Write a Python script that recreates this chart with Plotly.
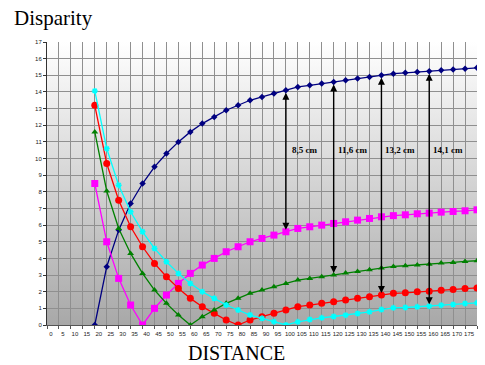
import base64
import plotly.graph_objects as go

# ---- data ----
distance = [20, 25, 30, 35, 40, 45, 50, 55, 60, 65, 70, 75, 80, 85, 90, 95, 100,
            105, 110, 115, 120, 125, 130, 135, 140, 145, 150, 155, 160, 165, 170, 175, 180]

navy_vals = [0, 3.5, 5.7, 7.3, 8.5, 9.5, 10.3, 11.0, 11.6, 12.1, 12.5, 12.9, 13.2, 13.5, 13.7, 13.9, 14.1,
             14.3, 14.4, 14.5, 14.6, 14.7, 14.8, 14.9, 15.0, 15.1, 15.15, 15.2, 15.25, 15.3, 15.35, 15.4, 15.45]

magenta_vals = [8.5, 5.0, 2.8, 1.2, 0, 1.0, 1.8, 2.5, 3.1, 3.6, 4.0, 4.4, 4.7, 5.0, 5.2, 5.4, 5.6,
                5.8, 5.9, 6.0, 6.1, 6.2, 6.3, 6.4, 6.5, 6.57, 6.62, 6.68, 6.72, 6.78, 6.82, 6.86, 6.92]

red_vals = [13.2, 9.7, 7.5, 5.9, 4.7, 3.7, 2.9, 2.2, 1.6, 1.1, 0.7, 0.3, 0, 0.3, 0.5, 0.7, 0.9,
            1.1, 1.2, 1.3, 1.4, 1.5, 1.6, 1.7, 1.8, 1.9, 1.93, 1.99, 2.03, 2.09, 2.13, 2.19, 2.23]

green_vals = [11.6, 8.05, 5.8, 4.3, 3.1, 2.1, 1.3, 0.6, 0, 0.5, 0.9, 1.3, 1.6, 1.9, 2.1, 2.3, 2.5,
              2.7, 2.8, 2.9, 3.0, 3.12, 3.22, 3.32, 3.42, 3.52, 3.56, 3.6, 3.65, 3.72, 3.76, 3.82, 3.86]

cyan_vals = [14.06, 10.6, 8.4, 6.8, 5.6, 4.6, 3.8, 3.1, 2.5, 2.0, 1.6, 1.2, 0.9, 0.6, 0.4, 0.2, 0,
             0.19, 0.33, 0.43, 0.51, 0.59, 0.69, 0.79, 0.93, 1.03, 1.05, 1.09, 1.13, 1.19, 1.23, 1.29, 1.33]

arrow_x = [100, 120, 140, 160]
arrow_labels = ["8,5 cm", "11,6 cm", "13,2 cm", "14,1 cm"]
arrow_targets = ["magenta", "green", "red", "cyan"]

x_ticks = list(range(0, 185, 5))
y_ticks = list(range(0, 18))

series = {
    "navy": dict(vals=navy_vals, color="#000080", symbol="diamond", size=5),
    "magenta": dict(vals=magenta_vals, color="#FF00FF", symbol="square", size=7),
    "red": dict(vals=red_vals, color="#FF0000", symbol="circle", size=7),
    "green": dict(vals=green_vals, color="#008000", symbol="triangle-up", size=6),
    "cyan": dict(vals=cyan_vals, color="#00FFFF", symbol="asterisk-open", size=5),
}

fig = go.Figure()
for name, s in series.items():
    marker = dict(symbol=s["symbol"], size=s["size"], color=s["color"])
    if s["symbol"].startswith("asterisk"):
        marker["line"] = dict(color=s["color"], width=1.5)
    fig.add_trace(go.Scatter(
        x=distance, y=s["vals"], mode="lines+markers", name=name,
        line=dict(color=s["color"], width=1.3), marker=marker, showlegend=False,
    ))

# gradient plot-area background
svg = ("<svg xmlns='http://www.w3.org/2000/svg' width='10' height='100' preserveAspectRatio='none'>"
       "<defs><linearGradient id='g' x1='0' y1='0' x2='0' y2='1'>"
       "<stop offset='0' stop-color='#ffffff'/><stop offset='1' stop-color='#a8a8a8'/>"
       "</linearGradient></defs><rect width='10' height='100' fill='url(#g)'/></svg>")
src = "data:image/svg+xml;base64," + base64.b64encode(svg.encode()).decode()
fig.add_layout_image(dict(source=src, xref="paper", yref="paper", x=0, y=1, sizex=1, sizey=1,
                          xanchor="left", yanchor="top", sizing="stretch", layer="below"))

annotations = []
for xv, lab, tgt in zip(arrow_x, arrow_labels, arrow_targets):
    i = distance.index(xv)
    annotations.append(dict(
        x=xv, y=series[tgt]["vals"][i], xref="x", yref="y",
        ax=xv, ay=navy_vals[i], axref="x", ayref="y",
        text="", showarrow=True, arrowside="end+start", arrowhead=2, startarrowhead=2,
        arrowsize=1, startarrowsize=1, arrowwidth=1.4, arrowcolor="#000000",
        standoff=2, startstandoff=1,
    ))
    annotations.append(dict(
        x=xv, y=10.5, xref="x", yref="y", text="<b>" + lab + "</b>", showarrow=False,
        xshift=19, font=dict(family="Liberation Serif", size=9, color="#000000"),
    ))

annotations.append(dict(text="Disparity", xref="paper", yref="paper", x=-0.081, y=1.085,
                        xanchor="left", yanchor="middle", showarrow=False,
                        font=dict(family="Liberation Serif", size=21, color="#000000")))
annotations.append(dict(text="DISTANCE", xref="paper", yref="paper", x=0.44, y=-0.1,
                        xanchor="center", yanchor="middle", showarrow=False,
                        font=dict(family="Liberation Serif", size=20, color="#000000")))

fig.update_layout(
    width=485, height=365,
    margin=dict(l=47, r=8, t=42, b=40),
    paper_bgcolor="#ffffff", plot_bgcolor="rgba(0,0,0,0)",
    annotations=annotations,
)
fig.update_xaxes(range=[0, 180], tickvals=x_ticks, ticktext=[str(v) for v in x_ticks],
                 showgrid=True, gridcolor="#8f8f8f", gridwidth=1, zeroline=False,
                 showline=True, linecolor="#555555", linewidth=1,
                 ticks="outside", ticklen=3, tickcolor="#555555",
                 tickfont=dict(family="Liberation Sans", size=6, color="#222222"),
                 ticklabelshift=4, tickangle=0)
fig.update_yaxes(range=[0, 17], tickvals=y_ticks, ticktext=[str(v) for v in y_ticks],
                 showgrid=True, gridcolor="#8f8f8f", gridwidth=1, zeroline=False,
                 showline=True, linecolor="#333333", linewidth=1,
                 ticks="outside", ticklen=3, tickcolor="#333333",
                 tickfont=dict(family="Liberation Sans", size=6, color="#222222"))

fig.write_html("out.html", config={"displayModeBar": False},
               post_script="document.body.style.margin='0';")
